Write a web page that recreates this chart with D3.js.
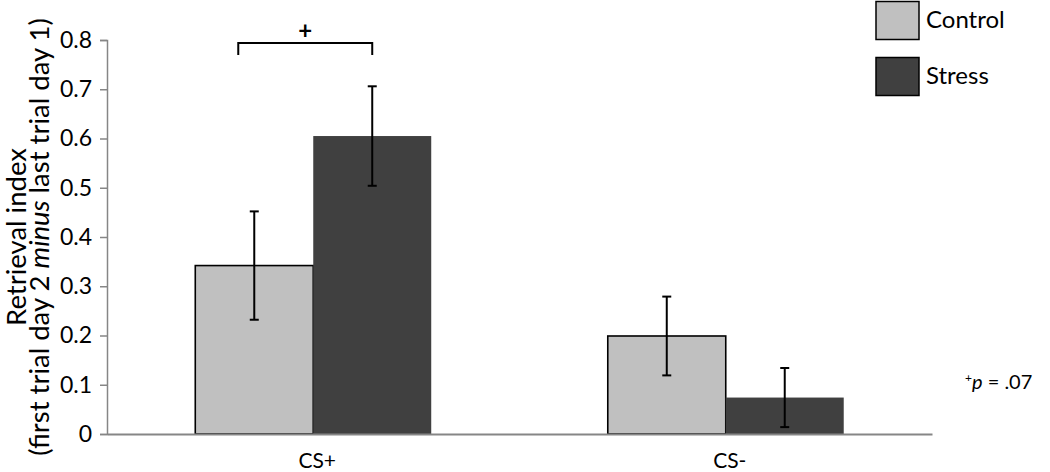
<!DOCTYPE html>
<html>
<head>
<meta charset="utf-8">
<script src="https://cdn.jsdelivr.net/npm/d3@7/dist/d3.min.js"></script>
<style>
  html, body { margin: 0; padding: 0; background: #fff; }
  svg { display: block; }
  text { font-family: Lato, "Open Sans", "Liberation Sans", sans-serif; fill: #000; }
</style>
</head>
<body>
<svg id="chart" width="1050" height="472"></svg>
<script>
const categories = ["CS+", "CS-"];
const seriesNames = ["Control", "Stress"];
const controlValues = [0.342, 0.199];
const stressValues = [0.605, 0.074];
const controlErrors = [0.110, 0.080];
const stressErrors = [0.101, 0.060];
const yTicks = [0, 0.1, 0.2, 0.3, 0.4, 0.5, 0.6, 0.7, 0.8];
const colors = { Control: "#c0c0c0", Stress: "#404040" };

const svg = d3.select("#chart");
const x0 = 107, x1 = 932, yBottom = 434, yTop = 40;

const y = d3.scaleLinear().domain([0, 0.8]).range([yBottom, yTop]);
const x = d3.scaleBand().domain(categories).range([x0, x1]).paddingInner(0.428).paddingOuter(0.214);
const xs = d3.scaleBand().domain(seriesNames).range([0, x.bandwidth()]);

const data = categories.map((c, i) => ({
  cat: c,
  vals: [
    { s: "Control", v: controlValues[i], e: controlErrors[i] },
    { s: "Stress", v: stressValues[i], e: stressErrors[i] }
  ]
}));

// bars
const groups = svg.selectAll("g.grp").data(data).enter().append("g")
  .attr("class", "grp")
  .attr("transform", d => `translate(${x(d.cat)},0)`);

groups.selectAll("rect").data(d => d.vals).enter().append("rect")
  .attr("x", d => xs(d.s))
  .attr("y", d => y(d.v))
  .attr("width", xs.bandwidth())
  .attr("height", d => y(0) - y(d.v))
  .attr("fill", d => colors[d.s])
  .attr("stroke", d => d.s === "Control" ? "#000" : "none")
  .attr("stroke-width", 1.6);

// error bars
const eb = groups.selectAll("g.eb").data(d => d.vals).enter().append("g").attr("class", "eb");
eb.append("line")
  .attr("x1", d => xs(d.s) + xs.bandwidth() / 2)
  .attr("x2", d => xs(d.s) + xs.bandwidth() / 2)
  .attr("y1", d => y(d.v + d.e))
  .attr("y2", d => y(d.v - d.e))
  .attr("stroke", "#000").attr("stroke-width", 2);
[1, -1].forEach(sg => {
  eb.append("line")
    .attr("x1", d => xs(d.s) + xs.bandwidth() / 2 - 4.5)
    .attr("x2", d => xs(d.s) + xs.bandwidth() / 2 + 4.5)
    .attr("y1", d => y(d.v + sg * d.e))
    .attr("y2", d => y(d.v + sg * d.e))
    .attr("stroke", "#000").attr("stroke-width", 2);
});

// y axis
const yAxis = d3.axisLeft(y).tickValues(yTicks).tickSize(7).tickPadding(8)
  .tickFormat(d => d === 0 ? "0" : d3.format(".1f")(d));
const gy = svg.append("g").attr("transform", `translate(${x0},0)`).call(yAxis);
gy.select(".domain").attr("stroke", "#868686").attr("stroke-width", 1.5);
gy.selectAll(".tick line").attr("stroke", "#868686").attr("stroke-width", 1.5);
gy.selectAll(".tick text").attr("font-size", 23).attr("font-family", "Lato, sans-serif").attr("fill", "#000");

// x axis
const xAxis = d3.axisBottom(x).tickSize(0).tickPadding(19);
const gx = svg.append("g").attr("transform", `translate(0,${yBottom})`).call(xAxis);
gx.select(".domain").attr("stroke", "#868686").attr("stroke-width", 2);
gx.selectAll(".tick text").attr("font-size", 21).attr("font-family", "Lato, sans-serif").attr("fill", "#000")
  .attr("dx", 4);

// y title
const yt = svg.append("text").attr("transform", "translate(26,237) rotate(-90)")
  .attr("text-anchor", "middle").attr("font-size", 27.5);
yt.append("tspan").attr("x", 0).attr("dy", 0).text("Retrieval index");
const t2 = yt.append("tspan").attr("x", 0).attr("dy", 23);
t2.append("tspan").text("(first  trial day 2 ");
t2.append("tspan").attr("font-style", "italic").text("minus");
t2.append("tspan").text(" last trial day 1)");

// significance bracket
const cx = x("CS+");
const bl = cx + xs("Control") + xs.bandwidth() / 2 - 16;
const br = cx + xs("Stress") + xs.bandwidth() / 2;
svg.append("path")
  .attr("d", `M${bl},55 L${bl},43 L${br},43 L${br},55`)
  .attr("fill", "none").attr("stroke", "#000").attr("stroke-width", 2);
svg.append("text").attr("x", (bl + br) / 2).attr("y", 39).attr("text-anchor", "middle")
  .attr("font-size", 24).attr("font-weight", "bold").text("+");

// legend
const leg = svg.append("g");
seriesNames.forEach((s, i) => {
  leg.append("rect").attr("x", 876).attr("y", 1.5 + i * 56).attr("width", 43).attr("height", 38)
    .attr("fill", colors[s]).attr("stroke", "#000").attr("stroke-width", 1.5);
  leg.append("text").attr("x", 926).attr("y", 28 + i * 56).attr("font-size", 24).text(s);
});

// p note
const pn = svg.append("text").attr("x", 965).attr("y", 389).attr("font-size", 20);
pn.append("tspan").attr("font-size", 12).attr("dy", -7).text("+");
pn.append("tspan").attr("dy", 7).attr("font-style", "italic").text("p");
pn.append("tspan").text(" = .07");
</script>
</body>
</html>
